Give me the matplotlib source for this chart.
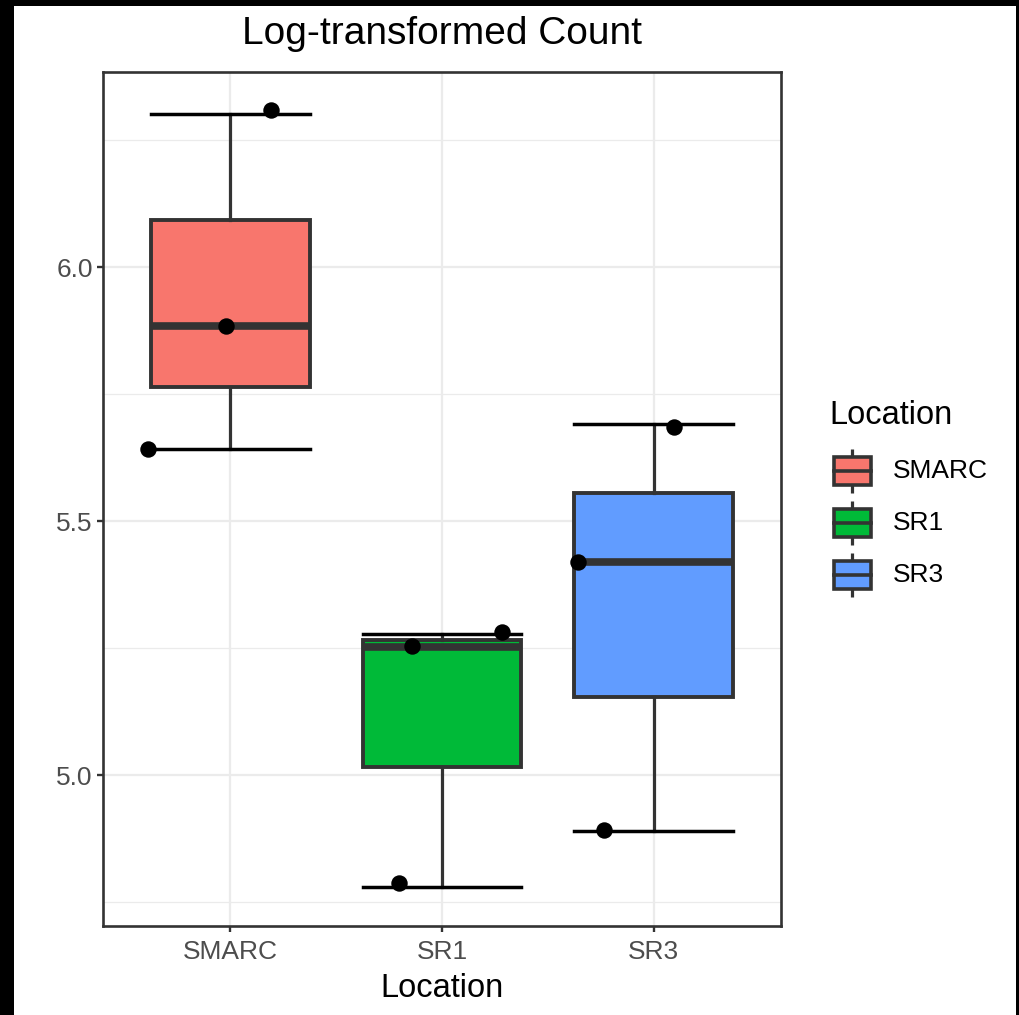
import numpy as np
import matplotlib as mpl
mpl.use('Agg')
import matplotlib.pyplot as plt
from matplotlib.patches import Rectangle

plt.rcParams['font.family'] = ['Liberation Sans', 'DejaVu Sans']

# log-transformed counts per location
locations = ['SMARC', 'SR1', 'SR3']
smarc = [5.642, 5.884, 6.301]
sr1 = [4.780, 5.253, 5.278]
sr3 = [4.890, 5.419, 5.691]
fills = ['#F8766D', '#00BA38', '#619CFF']

# jitter offsets used for the points layer
jit_x = [[-0.387, -0.019, 0.193], [-0.203, -0.142, 0.283], [-0.236, -0.358, 0.094]]
jit_y = [[0.0, 0.0, 0.008], [0.008, 0.001, 0.003], [0.002, 0.0, -0.006]]

groups = [smarc, sr1, sr3]
pos = np.arange(1, len(groups) + 1)
dark = '#333333'

fig = plt.figure(figsize=(10.19, 10.15), dpi=100)
ax = fig.add_axes([103 / 1019, 89 / 1015, 678 / 1019, 854 / 1015])

bp = ax.boxplot(groups, positions=pos, widths=0.75, whis=(0, 100),
                patch_artist=True, capwidths=0.75, showfliers=False,
                boxprops=dict(edgecolor=dark, linewidth=2.8),
                whiskerprops=dict(color=dark, linewidth=2.3),
                capprops=dict(color='black', linewidth=2.5),
                medianprops=dict(color=dark, linewidth=5.5),
                zorder=3)
for patch, c in zip(bp['boxes'], fills):
    patch.set_facecolor(c)

for i, vals in enumerate(groups):
    ax.scatter(pos[i] + np.array(jit_x[i]), np.array(vals) + np.array(jit_y[i]),
               s=140, color='black', zorder=5, linewidths=0)

ax.set_xlim(0.4, 3.6)
ax.set_ylim(4.703, 6.384)
ax.set_yticks([5.0, 5.5, 6.0])
ax.set_yticklabels(['5.0', '5.5', '6.0'])
ax.set_yticks([4.75, 5.25, 5.75, 6.25], minor=True)
ax.set_xticks(pos)
ax.set_xticklabels(locations)
ax.grid(True, which='major', color='#EBEBEB', lw=1.6, zorder=0)
ax.grid(True, which='minor', axis='y', color='#EBEBEB', lw=0.9, zorder=0)
ax.set_axisbelow(True)
for s in ax.spines.values():
    s.set_color(dark)
    s.set_linewidth(1.9)
ax.tick_params(which='major', length=4.3, width=1.7, color=dark,
               labelsize=19, labelcolor='#4D4D4D', pad=3)
ax.tick_params(axis='x', pad=6)
ax.tick_params(which='minor', length=0)

ax.set_xlabel('Location', fontsize=23.5, color='black', labelpad=6)
ax.set_title('Log-transformed Count', fontsize=28, pad=20)

# legend drawn in pixel space on an overlay axes
leg = fig.add_axes([0, 0, 1, 1], facecolor='none')
leg.set_xlim(0, 1019)
leg.set_ylim(1015, 0)
leg.axis('off')
leg.text(829, 415, 'Location', fontsize=23.5, va='center', ha='left')
for i, (name, c) in enumerate(zip(locations, fills)):
    yc = 471 + i * 52
    leg.plot([852, 852], [yc - 22, yc + 22], color=dark, lw=2.3,
             solid_capstyle='butt', zorder=1)
    leg.add_patch(Rectangle((834, yc - 14), 37, 28, facecolor=c,
                            edgecolor=dark, lw=2.6, zorder=2))
    leg.plot([834, 871], [yc, yc], color=dark, lw=2.6, zorder=3)
    leg.text(893, yc, name, fontsize=19, va='center', ha='left')

# dark frame along the left, top and right edges
leg.add_patch(Rectangle((0, 0), 14, 1015, color='black', lw=0))
leg.add_patch(Rectangle((0, 0), 1019, 6, color='black', lw=0))
leg.add_patch(Rectangle((1016, 0), 3, 1015, color='black', lw=0))

fig.savefig('out.png', dpi=100)
